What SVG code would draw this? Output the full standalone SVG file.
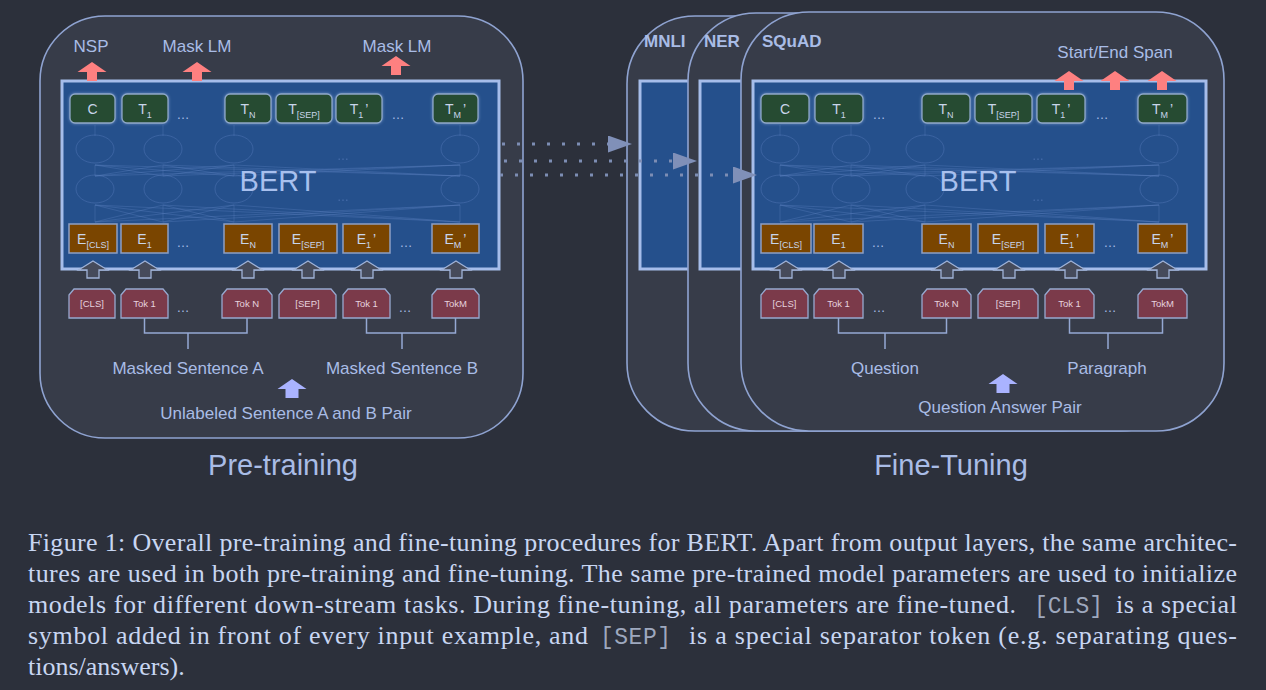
<svg xmlns="http://www.w3.org/2000/svg" width="1266" height="690" viewBox="0 0 1266 690">
<defs>
<style>
.panel{fill:#373c49;stroke:#8fa3d1;stroke-width:1.6}
.bert{fill:#25508c;stroke:#a6bdea;stroke-width:3}
.tout{fill:#254c32;stroke:#8ea7c8;stroke-width:1.3;filter:url(#glow)}
.emb{fill:#7a4500;stroke:#8d9fc4;stroke-width:1.5}
.tok{fill:#7b3a4a;stroke:#97a9d0;stroke-width:1.3}
.up{fill:#464b5b;stroke:#a0b3d8;stroke-width:1.3}
.out{fill:#fe8080}
.inp{fill:#aab3ff}
text{font-family:"Liberation Sans",Arial,sans-serif}
.lbl{font-size:17px;fill:#a9bce6;text-anchor:middle}
.big{font-size:29px}
.task{font-size:17px;font-weight:bold;fill:#a9bce6}
.bt{font-size:29px;fill:#a8c0ee;text-anchor:middle}
.cell{font-size:14px;fill:#c9d5ea;text-anchor:middle}
.sub{font-size:9px}
.tokt{font-size:9.5px;fill:#e6d2de;text-anchor:middle}
.dots{font-size:13px;fill:#a9bce6;text-anchor:middle}
.net{stroke:#5d80c0;stroke-width:1;fill:none;opacity:.35}
.nete{stroke:#5d80c0;stroke-width:1;fill:none;opacity:.4}
.ndots{font-size:12px;fill:#5d80c0;opacity:.6;text-anchor:middle}
.brk{stroke:#95a8d3;stroke-width:1.5;fill:none}
.dotl{stroke:#7d8db4;stroke-width:3;stroke-dasharray:3 12;fill:none}
.cap{font-family:"Liberation Serif","Times New Roman",serif;font-size:26px;fill:#c8d6f2}
.mono{font-family:"Liberation Mono","Courier New",monospace;font-size:23px;fill:#9ea8be}
</style>
<filter id="glow" x="-25%" y="-35%" width="150%" height="170%">
<feDropShadow dx="0" dy="0" stdDeviation="1.6" flood-color="#a8c4f0" flood-opacity="0.55"/>
</filter>
<marker id="tri" markerUnits="userSpaceOnUse" markerWidth="24" markerHeight="17" viewBox="0 -8.5 24 17" refX="0" refY="0" orient="auto">
<path d="M0,-8.5 L24,0 L0,8.5 Z" fill="#8090b8"/>
</marker>
<path id="aOut" d="M0,0 L14.5,10 L5,10 L5,19 L-5,19 L-5,10 L-14.5,10 Z"/>
<path id="aUp" d="M0,0 L14.5,9 L6,9 L6,17 L-6,17 L-6,9 L-14.5,9 Z"/>
<path id="aIn" d="M0,0 L14.5,10 L6.5,10 L6.5,19 L-6.5,19 L-6.5,10 L-14.5,10 Z"/>
</defs>

<rect width="1266" height="690" fill="#2c303b"/>

<!-- ===== Pre-training ===== -->
<g id="pretraining">
<rect class="panel" x="40" y="16" width="483" height="422" rx="65"/>
<g id="pt-bert">
<rect class="bert" x="62" y="81" width="437" height="188"/>
<g id="pt-net">
<ellipse class="nete" cx="95" cy="149" rx="19" ry="14"/><ellipse class="nete" cx="163" cy="149" rx="19" ry="14"/>
<ellipse class="nete" cx="234" cy="149" rx="19" ry="14"/><ellipse class="nete" cx="460" cy="149" rx="19" ry="14"/>
<ellipse class="nete" cx="95" cy="189" rx="19" ry="14"/><ellipse class="nete" cx="163" cy="189" rx="19" ry="14"/>
<ellipse class="nete" cx="234" cy="189" rx="19" ry="14"/><ellipse class="nete" cx="460" cy="189" rx="19" ry="14"/>
<path class="net" d="M95,222L95,205M95,222L163,205M95,222L234,205M95,222L460,205M163,222L95,205M163,222L163,205M163,222L234,205M163,222L460,205M234,222L95,205M234,222L163,205M234,222L234,205M234,222L460,205M460,222L95,205M460,222L163,205M460,222L234,205M460,222L460,205"/>
<path class="net" d="M95,176L95,165M95,176L163,165M95,176L234,165M95,176L460,165M163,176L95,165M163,176L163,165M163,176L234,165M163,176L460,165M234,176L95,165M234,176L163,165M234,176L234,165M234,176L460,165M460,176L95,165M460,176L163,165M460,176L234,165M460,176L460,165"/>
<path class="net" d="M95,136V125M163,136V125M234,136V125M460,136V125"/>
<text class="ndots" x="343" y="160">…</text><text class="ndots" x="343" y="201">…</text>
</g>
<text class="bt" x="278" y="191">BERT</text>
</g>
<g id="pt-out">
<rect class="tout" x="70" y="94" width="45" height="29" rx="5"/><text class="cell" x="92.5" y="114">C</text>
<rect class="tout" x="122" y="94" width="46" height="29" rx="5"/><text class="cell" x="145" y="114">T<tspan class="sub" dy="4">1</tspan></text>
<text class="dots" x="183" y="119">…</text>
<rect class="tout" x="225" y="94" width="46" height="29" rx="5"/><text class="cell" x="248" y="114">T<tspan class="sub" dy="4">N</tspan></text>
<rect class="tout" x="276" y="94" width="56" height="29" rx="5"/><text class="cell" x="304" y="114">T<tspan class="sub" dy="4">[SEP]</tspan></text>
<rect class="tout" x="336" y="94" width="46" height="29" rx="5"/><text class="cell" x="359" y="114">T<tspan class="sub" dy="4">1</tspan><tspan dy="-4" dx="2">’</tspan></text>
<text class="dots" x="398" y="119">…</text>
<rect class="tout" x="433" y="94" width="45" height="29" rx="5"/><text class="cell" x="455.5" y="114">T<tspan class="sub" dy="4">M</tspan><tspan dy="-4" dx="2">’</tspan></text>
</g>
<g id="pt-emb">
<rect class="emb" x="69" y="224" width="48" height="29"/><text class="cell" x="93" y="244">E<tspan class="sub" dy="4">[CLS]</tspan></text>
<rect class="emb" x="121" y="224" width="47" height="29"/><text class="cell" x="144.5" y="244">E<tspan class="sub" dy="4">1</tspan></text>
<text class="dots" x="183" y="247">…</text>
<rect class="emb" x="224" y="224" width="48" height="29"/><text class="cell" x="248" y="244">E<tspan class="sub" dy="4">N</tspan></text>
<rect class="emb" x="279" y="224" width="58" height="29"/><text class="cell" x="308" y="244">E<tspan class="sub" dy="4">[SEP]</tspan></text>
<rect class="emb" x="343" y="224" width="47" height="29"/><text class="cell" x="366.5" y="244">E<tspan class="sub" dy="4">1</tspan><tspan dy="-4" dx="2">’</tspan></text>
<text class="dots" x="406" y="247">…</text>
<rect class="emb" x="432" y="224" width="47" height="29"/><text class="cell" x="455.5" y="244">E<tspan class="sub" dy="4">M</tspan><tspan dy="-4" dx="2">’</tspan></text>
</g>
<g id="pt-heads">
<use href="#aOut" class="out" x="92" y="62"/>
<use href="#aOut" class="out" x="197" y="62"/>
<use href="#aOut" class="out" x="396" y="56"/>
<text class="lbl" x="91" y="52">NSP</text>
<text class="lbl" x="197" y="52">Mask LM</text>
<text class="lbl" x="397" y="52">Mask LM</text>
</g>
<g id="pt-in-arrows">
<use href="#aUp" class="up" x="93" y="261"/><use href="#aUp" class="up" x="145" y="261"/>
<use href="#aUp" class="up" x="248" y="261"/><use href="#aUp" class="up" x="308" y="261"/>
<use href="#aUp" class="up" x="367" y="261"/><use href="#aUp" class="up" x="456" y="261"/>
</g>
<g id="pt-tokens">
<path class="tok" d="M69,295L74,289H110L115,295V318H69Z"/><text class="tokt" x="92" y="307">[CLS]</text>
<path class="tok" d="M121,295L126,289H163L168,295V318H121Z"/><text class="tokt" x="144.5" y="307">Tok 1</text>
<text class="dots" x="183" y="312">…</text>
<path class="tok" d="M222,295L227,289H267L272,295V318H222Z"/><text class="tokt" x="247" y="307">Tok N</text>
<path class="tok" d="M279,295L284,289H331L336,295V318H279Z"/><text class="tokt" x="307.5" y="307">[SEP]</text>
<path class="tok" d="M343,295L348,289H385L390,295V318H343Z"/><text class="tokt" x="366.5" y="307">Tok 1</text>
<text class="dots" x="405" y="312">…</text>
<path class="tok" d="M432,295L437,289H474L479,295V318H432Z"/><text class="tokt" x="455.5" y="307">TokM</text>
</g>
<g id="pt-input">
<path class="brk" d="M144.5,318V333H247V318M188,333V349"/>
<path class="brk" d="M366.5,318V333H455.5V318M402,333V349"/>
<text class="lbl" x="188" y="374">Masked Sentence A</text>
<text class="lbl" x="402" y="374">Masked Sentence B</text>
<use href="#aIn" class="inp" x="292" y="379"/>
<text class="lbl" x="286" y="419">Unlabeled Sentence A and B Pair</text>
</g>
<text class="lbl big" x="283" y="475">Pre-training</text>
</g>

<!-- ===== Fine-tuning ===== -->
<g id="finetuning">
<g id="ft-mnli">
<rect class="panel" x="627" y="16" width="500" height="415" rx="68"/>
<rect class="bert" x="640" y="81" width="120" height="188"/>
<text class="task" x="644" y="47">MNLI</text>
</g>
<g id="ft-ner">
<rect class="panel" x="688" y="13" width="500" height="418" rx="68"/>
<rect class="bert" x="700" y="81" width="120" height="188"/>
<text class="task" x="704" y="47">NER</text>
</g>
<g id="ft-squad">
<rect class="panel" x="741" y="12" width="483" height="419" rx="68"/>
<text class="task" x="762" y="47">SQuAD</text>
<g id="ft-bert">
<rect class="bert" x="753" y="81" width="453" height="188"/>
<g id="ft-net">
<ellipse class="nete" cx="780" cy="149" rx="19" ry="14"/><ellipse class="nete" cx="851" cy="149" rx="19" ry="14"/>
<ellipse class="nete" cx="925" cy="149" rx="19" ry="14"/><ellipse class="nete" cx="1159" cy="149" rx="19" ry="14"/>
<ellipse class="nete" cx="780" cy="189" rx="19" ry="14"/><ellipse class="nete" cx="851" cy="189" rx="19" ry="14"/>
<ellipse class="nete" cx="925" cy="189" rx="19" ry="14"/><ellipse class="nete" cx="1159" cy="189" rx="19" ry="14"/>
<path class="net" d="M780,222L780,205M780,222L851,205M780,222L925,205M780,222L1159,205M851,222L780,205M851,222L851,205M851,222L925,205M851,222L1159,205M925,222L780,205M925,222L851,205M925,222L925,205M925,222L1159,205M1159,222L780,205M1159,222L851,205M1159,222L925,205M1159,222L1159,205"/>
<path class="net" d="M780,176L780,165M780,176L851,165M780,176L925,165M780,176L1159,165M851,176L780,165M851,176L851,165M851,176L925,165M851,176L1159,165M925,176L780,165M925,176L851,165M925,176L925,165M925,176L1159,165M1159,176L780,165M1159,176L851,165M1159,176L925,165M1159,176L1159,165"/>
<path class="net" d="M780,136V125M851,136V125M925,136V125M1159,136V125"/>
<text class="ndots" x="1038" y="160">…</text><text class="ndots" x="1038" y="201">…</text>
</g>
<text class="bt" x="978" y="191">BERT</text>
</g>
<g id="ft-out">
<rect class="tout" x="761" y="94" width="48" height="29" rx="5"/><text class="cell" x="785" y="114">C</text>
<rect class="tout" x="815" y="94" width="48" height="29" rx="5"/><text class="cell" x="839" y="114">T<tspan class="sub" dy="4">1</tspan></text>
<text class="dots" x="879" y="119">…</text>
<rect class="tout" x="922" y="94" width="48" height="29" rx="5"/><text class="cell" x="946" y="114">T<tspan class="sub" dy="4">N</tspan></text>
<rect class="tout" x="975" y="94" width="57" height="29" rx="5"/><text class="cell" x="1003.5" y="114">T<tspan class="sub" dy="4">[SEP]</tspan></text>
<rect class="tout" x="1037" y="94" width="48" height="29" rx="5"/><text class="cell" x="1061" y="114">T<tspan class="sub" dy="4">1</tspan><tspan dy="-4" dx="2">’</tspan></text>
<text class="dots" x="1102" y="119">…</text>
<rect class="tout" x="1138" y="94" width="49" height="29" rx="5"/><text class="cell" x="1162.5" y="114">T<tspan class="sub" dy="4">M</tspan><tspan dy="-4" dx="2">’</tspan></text>
</g>
<g id="ft-emb">
<rect class="emb" x="761" y="224" width="50" height="29"/><text class="cell" x="786" y="244">E<tspan class="sub" dy="4">[CLS]</tspan></text>
<rect class="emb" x="814" y="224" width="49" height="29"/><text class="cell" x="838.5" y="244">E<tspan class="sub" dy="4">1</tspan></text>
<text class="dots" x="878" y="247">…</text>
<rect class="emb" x="922" y="224" width="49" height="29"/><text class="cell" x="946.5" y="244">E<tspan class="sub" dy="4">N</tspan></text>
<rect class="emb" x="978" y="224" width="60" height="29"/><text class="cell" x="1008" y="244">E<tspan class="sub" dy="4">[SEP]</tspan></text>
<rect class="emb" x="1045" y="224" width="49" height="29"/><text class="cell" x="1069.5" y="244">E<tspan class="sub" dy="4">1</tspan><tspan dy="-4" dx="2">’</tspan></text>
<text class="dots" x="1110" y="247">…</text>
<rect class="emb" x="1138" y="224" width="49" height="29"/><text class="cell" x="1162.5" y="244">E<tspan class="sub" dy="4">M</tspan><tspan dy="-4" dx="2">’</tspan></text>
</g>
<g id="ft-heads">
<use href="#aOut" class="out" x="1069" y="71"/>
<use href="#aOut" class="out" x="1115" y="71"/>
<use href="#aOut" class="out" x="1162" y="71"/>
<text class="lbl" x="1115" y="58">Start/End Span</text>
</g>
<g id="ft-in-arrows">
<use href="#aUp" class="up" x="786" y="261"/><use href="#aUp" class="up" x="839" y="261"/>
<use href="#aUp" class="up" x="947" y="261"/><use href="#aUp" class="up" x="1009" y="261"/>
<use href="#aUp" class="up" x="1071" y="261"/><use href="#aUp" class="up" x="1163" y="261"/>
</g>
<g id="ft-tokens">
<path class="tok" d="M761,295L766,289H803L808,295V318H761Z"/><text class="tokt" x="784.5" y="307">[CLS]</text>
<path class="tok" d="M814,295L819,289H858L863,295V318H814Z"/><text class="tokt" x="838.5" y="307">Tok 1</text>
<text class="dots" x="879" y="312">…</text>
<path class="tok" d="M922,295L927,289H966L971,295V318H922Z"/><text class="tokt" x="946.5" y="307">Tok N</text>
<path class="tok" d="M978,295L983,289H1033L1038,295V318H978Z"/><text class="tokt" x="1008" y="307">[SEP]</text>
<path class="tok" d="M1045,295L1050,289H1089L1094,295V318H1045Z"/><text class="tokt" x="1069.5" y="307">Tok 1</text>
<text class="dots" x="1110" y="312">…</text>
<path class="tok" d="M1138,295L1143,289H1182L1187,295V318H1138Z"/><text class="tokt" x="1162.5" y="307">TokM</text>
</g>
<g id="ft-input">
<path class="brk" d="M838.5,318V333H946.5V318M885,333V349"/>
<path class="brk" d="M1069.5,318V333H1162.5V318M1108,333V349"/>
<text class="lbl" x="885" y="374">Question</text>
<text class="lbl" x="1107" y="374">Paragraph</text>
<use href="#aIn" class="inp" x="1003" y="374"/>
<text class="lbl" x="1000" y="413">Question Answer Pair</text>
</g>
</g>
<text class="lbl big" x="951" y="475">Fine-Tuning</text>
</g>

<!-- transfer of pre-trained parameters -->
<g id="connectors">
<path class="dotl" d="M502,144H608" marker-end="url(#tri)"/>
<path class="dotl" d="M504,161H673" marker-end="url(#tri)"/>
<path class="dotl" d="M500,175H733" marker-end="url(#tri)"/>
</g>

<!-- caption -->
<g id="caption">
<text class="cap" x="28" y="551" textLength="1209" lengthAdjust="spacing">Figure 1: Overall pre-training and fine-tuning procedures for BERT. Apart from output layers, the same architec-</text>
<text class="cap" x="28" y="582" textLength="1209" lengthAdjust="spacing">tures are used in both pre-training and fine-tuning. The same pre-trained model parameters are used to initialize</text>
<text class="cap" x="28" y="613" textLength="988" lengthAdjust="spacing">models for different down-stream tasks. During fine-tuning, all parameters are fine-tuned.</text>
<text class="mono" x="1034" y="613" textLength="69" lengthAdjust="spacing">[CLS]</text>
<text class="cap" x="1116" y="613" textLength="121" lengthAdjust="spacing">is a special</text>
<text class="cap" x="28" y="644" textLength="560" lengthAdjust="spacing">symbol added in front of every input example, and</text>
<text class="mono" x="600" y="644" textLength="71" lengthAdjust="spacing">[SEP]</text>
<text class="cap" x="689" y="644" textLength="548" lengthAdjust="spacing">is a special separator token (e.g.  separating ques-</text>
<text class="cap" x="28" y="675">tions/answers).</text>
</g>
</svg>
